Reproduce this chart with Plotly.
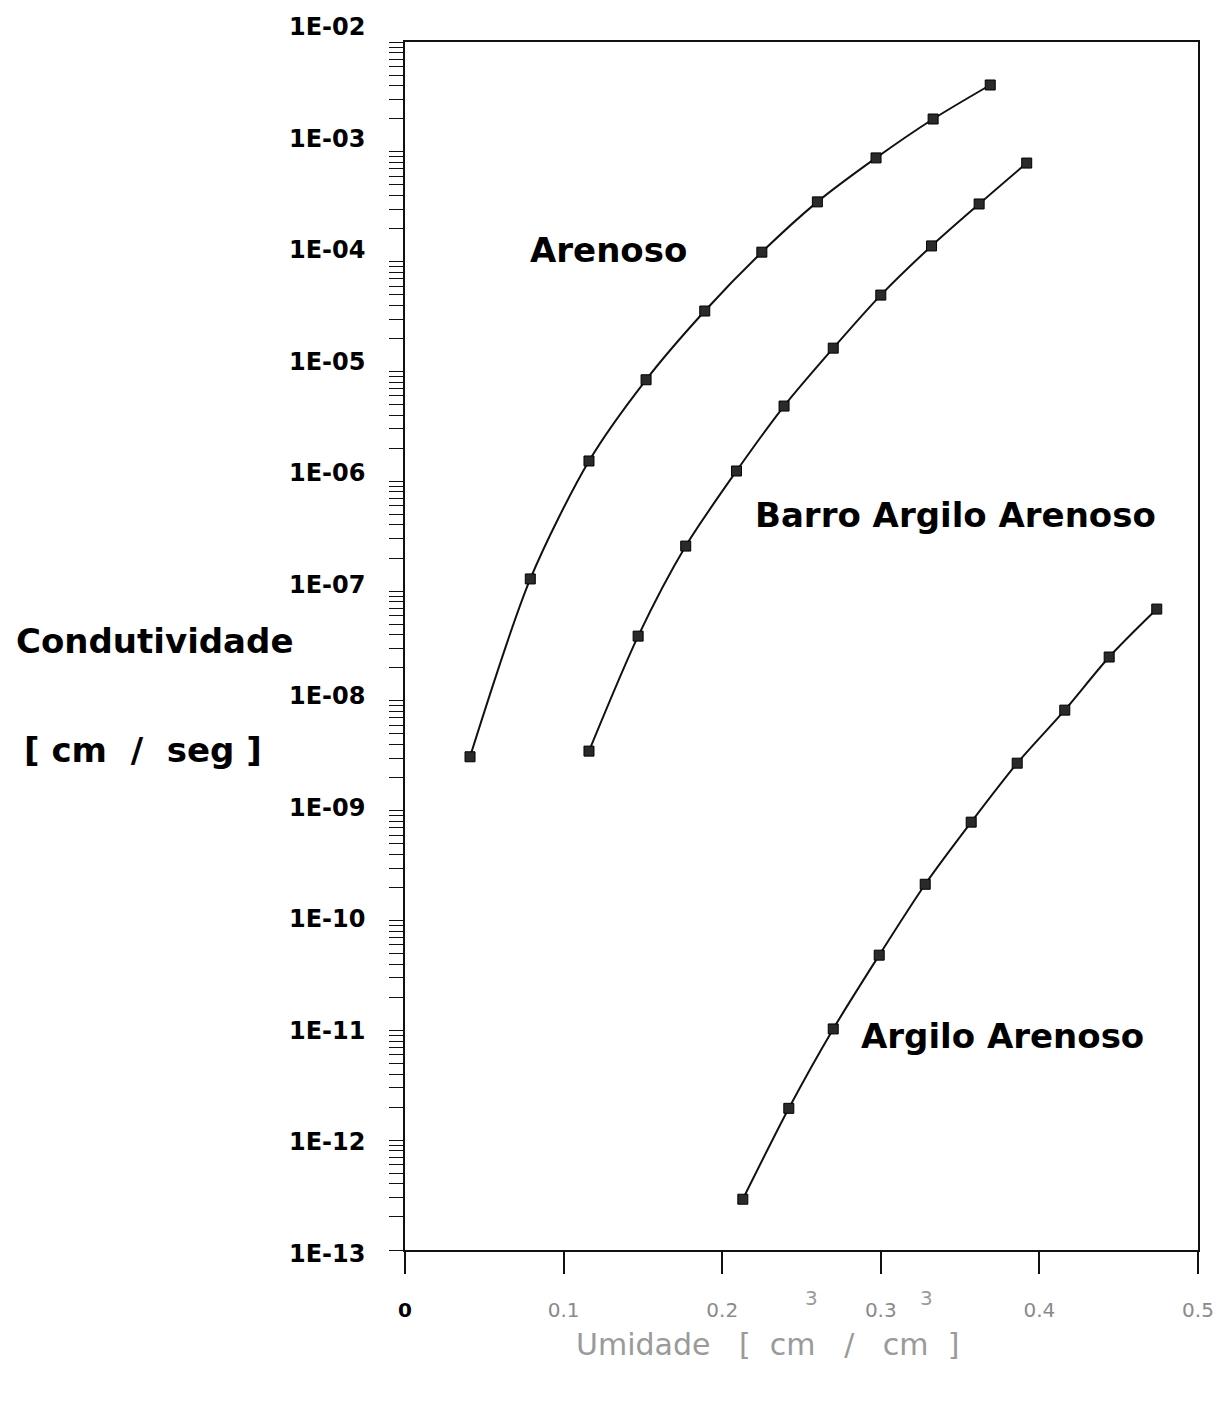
import plotly.graph_objects as go

# ---- data ----
series_names = ["Arenoso", "Barro Argilo Arenoso", "Argilo Arenoso"]

arenoso_x = [0.041, 0.079, 0.116, 0.152, 0.189, 0.225, 0.260, 0.297, 0.333, 0.369]
arenoso_y = [3.1e-9, 1.29e-7, 1.53e-6, 8.4e-6, 3.55e-5, 1.22e-4, 3.5e-4, 8.8e-4, 1.99e-3, 4.06e-3]

barro_x = [0.116, 0.147, 0.177, 0.209, 0.239, 0.270, 0.300, 0.332, 0.362, 0.392]
barro_y = [3.49e-9, 3.89e-8, 2.57e-7, 1.24e-6, 4.84e-6, 1.63e-5, 4.96e-5, 1.39e-4, 3.35e-4, 7.9e-4]

argilo_x = [0.213, 0.242, 0.270, 0.299, 0.328, 0.357, 0.386, 0.416, 0.444, 0.474]
argilo_y = [2.9e-13, 1.95e-12, 1.03e-11, 4.84e-11, 2.14e-10, 7.87e-10, 2.71e-9, 8.24e-9, 2.51e-8, 6.86e-8]

y_exponents = [-2, -3, -4, -5, -6, -7, -8, -9, -10, -11, -12, -13]
y_tick_labels = ["1E-02", "1E-03", "1E-04", "1E-05", "1E-06", "1E-07",
                 "1E-08", "1E-09", "1E-10", "1E-11", "1E-12", "1E-13"]

x_tick_vals = [0, 0.1, 0.2, 0.3, 0.4, 0.5]
x_tick_labels = ["0", "0.1", "0.2", "0.3", "0.4", "0.5"]

# label anchor positions for series names (data coords: x, log10 y)
label_x = [0.128, 0.347, 0.377]
label_logy = [-3.894, -6.307, -11.051]

FONT = "DejaVu Sans"

fig = go.Figure()
for xs, ys, nm in [(arenoso_x, arenoso_y, series_names[0]),
                   (barro_x, barro_y, series_names[1]),
                   (argilo_x, argilo_y, series_names[2])]:
    fig.add_trace(go.Scatter(
        x=xs, y=ys, name=nm, mode="lines+markers",
        line=dict(color="#111111", width=2, shape="spline", smoothing=0.8),
        marker=dict(symbol="square", size=10, color="#2a2a2a",
                    line=dict(color="#000000", width=1)),
        showlegend=False,
    ))

# minor+major ticks on log axis
tickvals = []
for e in range(-13, -2):
    for k in range(1, 10):
        tickvals.append(k * 10.0 ** e)
tickvals.append(1e-2)

gray_ticks = []
for i, t in enumerate(x_tick_labels):
    if i == 0:
        gray_ticks.append("<b>" + t + "</b>")
    else:
        gray_ticks.append('<span style="color:#8a8a8a">' + t + "</span>")

fig.update_layout(
    width=1224, height=1417,
    margin=dict(l=397, r=34, t=34, b=175),
    paper_bgcolor="white", plot_bgcolor="white",
    font=dict(family=FONT, color="#000000"),
    xaxis=dict(
        range=[0, 0.5], showgrid=False, zeroline=False,
        showline=True, linecolor="#111111", linewidth=2, mirror=True,
        tickmode="array", tickvals=x_tick_vals, ticktext=gray_ticks,
        ticks="outside", ticklen=22, tickwidth=1.5, tickcolor="#111111",
        tickfont=dict(size=20, family=FONT, color="#000000"),
        ticklabelstandoff=19,
    ),
    yaxis=dict(
        type="log", range=[-13, -2], showgrid=False, zeroline=False,
        showline=True, linecolor="#111111", linewidth=2, mirror=True,
        tickmode="array", tickvals=tickvals, showticklabels=False,
        ticks="outside", ticklen=14, tickwidth=1.2, tickcolor="#111111",
    ),
)

annotations = []
for i, (e, lab) in enumerate(zip(y_exponents, y_tick_labels)):
    annotations.append(dict(
        x=0, xref="paper", y=e, yref="y", text="<b>" + lab + "</b>",
        showarrow=False, xanchor="right", yanchor="middle",
        xshift=-38, yshift=15 - 1.7 * i,
        font=dict(family=FONT, size=24, color="#000000"),
    ))

for nm, lx, ly in zip(series_names, label_x, label_logy):
    annotations.append(dict(
        x=lx, y=ly, xref="x", yref="y", text="<b>" + nm + "</b>",
        showarrow=False, xanchor="center", yanchor="middle",
        font=dict(family=FONT, size=34, color="#000000"),
    ))

# y-axis title (two lines)
annotations.append(dict(
    x=-0.3165, y=0.5041, xref="paper", yref="paper", text="<b>Condutividade</b>",
    showarrow=False, xanchor="center", yanchor="middle",
    font=dict(family=FONT, size=34, color="#000000"),
))
annotations.append(dict(
    x=-0.330, y=0.4139, xref="paper", yref="paper", text="<b>[ cm  /  seg ]</b>",
    showarrow=False, xanchor="center", yanchor="middle",
    font=dict(family=FONT, size=34, color="#000000"),
))

# x-axis title
annotations.append(dict(
    x=0.4565, y=-0.0786, xref="paper", yref="paper",
    text="Umidade   [  cm   /   cm  ]",
    showarrow=False, xanchor="center", yanchor="middle",
    font=dict(family=FONT, size=30, color="#9a9a9a"),
))
for xp in [0.513, 0.658]:
    annotations.append(dict(
        x=xp, y=-0.0397, xref="paper", yref="paper", text="3",
        showarrow=False, xanchor="center", yanchor="middle",
        font=dict(family=FONT, size=20, color="#9a9a9a"),
    ))

fig.update_layout(annotations=annotations)
fig.write_html("out.html")
